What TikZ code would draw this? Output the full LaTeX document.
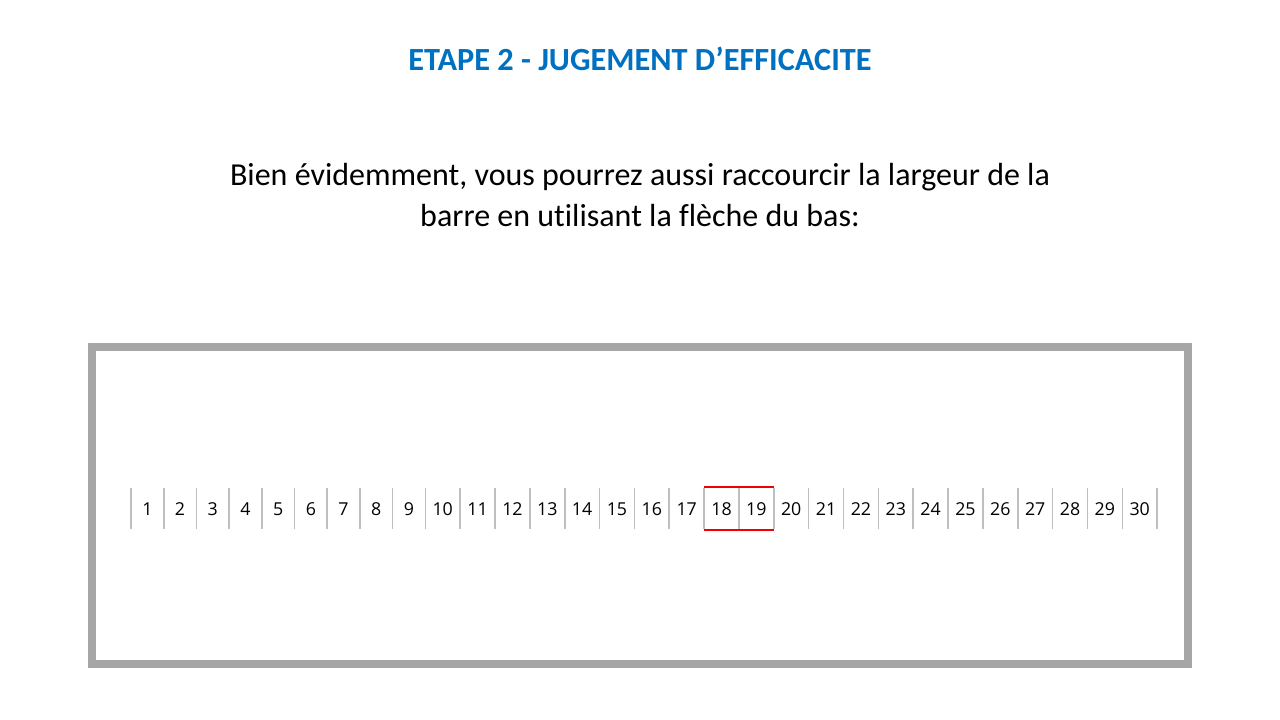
\documentclass[tikz,border=0pt]{standalone}
\usepackage{fontspec}
\usetikzlibrary{calc}
\setmainfont[Ligatures=NoCommon]{Carlito}
\newfontfamily\numfont{Open Sans}
\definecolor{titleblue}{RGB}{0,112,192}
\definecolor{framegray}{RGB}{166,166,166}
\definecolor{tickgray}{RGB}{191,191,191}
\definecolor{selred}{RGB}{240,0,0}
\tikzset{
  titletext/.style={text=titleblue,font=\fontsize{32.3}{38}\selectfont\bfseries,inner sep=0pt,anchor=base},
  bodytext/.style={font=\fontsize{32}{41}\selectfont,inner sep=0pt,anchor=base,align=center},
  numtext/.style={font=\numfont\fontsize{17.8}{20}\selectfont,inner sep=0pt,anchor=base},
  tickline/.style={draw=tickgray,line width=1.6pt},
  selline/.style={draw=selred,line width=2.6pt},
  framebox/.style={draw=framegray,line width=8pt}
}
\begin{document}
\begin{tikzpicture}[x=1pt,y=-1pt]
\useasboundingbox (0,0) rectangle (1280,720);
\node[titletext] (title) at (640,70.5) {ETAPE 2 - JUGEMENT D’EFFICACITE};
\node[bodytext] (l1) at (640,185) {Bien évidemment, vous pourrez aussi raccourcir la largeur de la};
\node[bodytext] (l2) at (640,226) {barre en utilisant la flèche du bas:};
\node[framebox,minimum width=1096pt,minimum height=317pt,inner sep=0pt] (frame) at (640,505.5) {};
\foreach \k in {0,...,30}{
  \pgfmathsetmacro\tx{(\k<=9) ? 131+32.7*\k : 425.3+34.85*(\k-9)}
  \coordinate (t\k) at (\tx,488);
  \coordinate (b\k) at (\tx,529);
  \draw[tickline] (t\k) -- (b\k);
}
\foreach \k [count=\j from 0] in {1,...,30}{
  \node[numtext] (n\k) at ($(t\j)!0.5!(t\k)+(0,27.5)$) {\k};
}
\draw[selline] ([yshift=1pt]t17) -- ([yshift=1pt]t19);
\draw[selline] ([yshift=-1pt]b17) -- ([yshift=-1pt]b19);
\end{tikzpicture}
\end{document}
